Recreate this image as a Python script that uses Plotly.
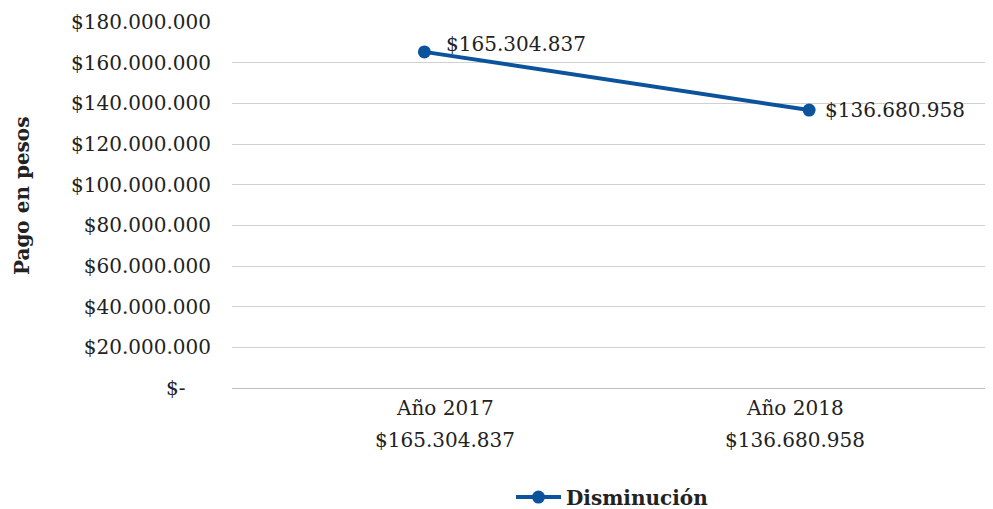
import plotly.graph_objects as go

categories = ["Año 2017", "Año 2018"]
values = [165304837, 136680958]
series_name = "Disminución"
y_tick_values = [0, 20000000, 40000000, 60000000, 80000000, 100000000,
                 120000000, 140000000, 160000000, 180000000]
y_title = "Pago en pesos"


def fmt(v):
    return "$" + f"{v:,}".replace(",", ".")


y_tick_text = [fmt(v) if v else "$-" + "\u00a0" * 4 for v in y_tick_values]

FONT = "DejaVu Serif"
BLUE = "#0B539B"
TXT = "#222222"
FS = 20

fig = go.Figure()
fig.add_trace(go.Scatter(
    x=categories, y=values, name="<b>" + series_name + "</b>",
    mode="lines+markers",
    line=dict(color=BLUE, width=4),
    marker=dict(color=BLUE, size=13),
    showlegend=True,
))

annotations = []
label_shifts = [(20, 8), (14, 0)]
axis_shifts = [21, -14]
for c, v, (dx, dy), ax in zip(categories, values, label_shifts, axis_shifts):
    annotations.append(dict(x=c, y=v, xref="x", yref="y", text=fmt(v),
                            showarrow=False, xanchor="left", yanchor="middle",
                            xshift=dx, yshift=dy,
                            font=dict(family=FONT, size=FS, color=TXT)))
    annotations.append(dict(x=c, y=0, xref="x", yref="paper", text=c,
                            showarrow=False, xanchor="center", yanchor="middle",
                            xshift=ax, yshift=-20,
                            font=dict(family=FONT, size=FS, color=TXT)))
    annotations.append(dict(x=c, y=0, xref="x", yref="paper", text=fmt(v),
                            showarrow=False, xanchor="center", yanchor="middle",
                            xshift=ax, yshift=-52,
                            font=dict(family=FONT, size=FS, color=TXT)))

annotations.append(dict(x=-0.276, y=0.527, xref="paper", yref="paper",
                        text="<b>" + y_title + "</b>", textangle=-90,
                        showarrow=False, xanchor="center", yanchor="middle",
                        font=dict(family=FONT, size=20, color=TXT)))

# page body has an 8px default margin; figure is sized/offset to compensate
fig.update_layout(
    width=985, height=501,
    margin=dict(l=224, r=0, t=14, b=121, autoexpand=False),
    paper_bgcolor="white", plot_bgcolor="white",
    font=dict(family=FONT, size=FS, color=TXT),
    annotations=annotations,
    legend=dict(orientation="h", x=0.5, xanchor="center", y=-0.298,
                yanchor="middle", font=dict(family=FONT, size=FS, color=TXT),
                itemwidth=45),
    xaxis=dict(type="category", range=[-0.5, 1.478], showgrid=False,
               showline=True, linecolor="#BFBFBF", linewidth=1,
               ticks="", showticklabels=False, automargin=False),
    yaxis=dict(range=[0, 180000000], tickvals=y_tick_values,
               ticktext=y_tick_text, showgrid=True, gridcolor="#D0D0D0",
               gridwidth=1, zeroline=False, showline=False, ticks="",
               tickfont=dict(family=FONT, size=FS, color=TXT),
               ticklabelstandoff=20, automargin=False),
)

fig.write_html("out.html")
